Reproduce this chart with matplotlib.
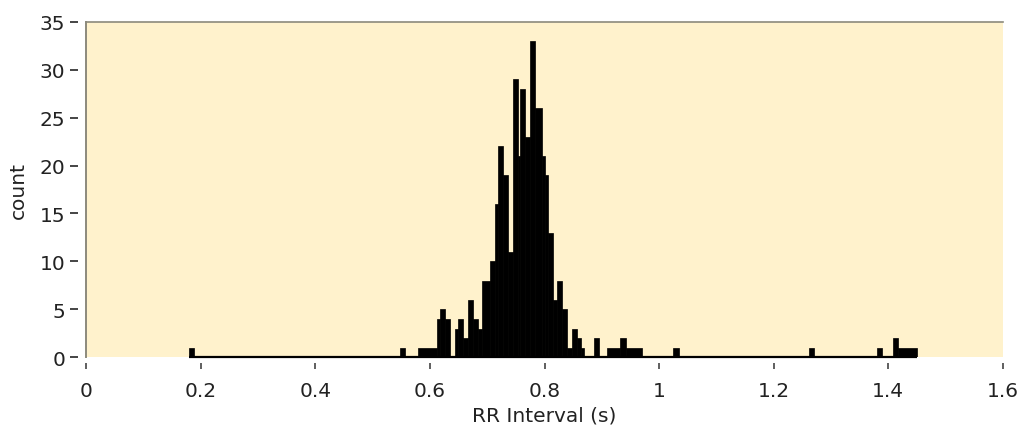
import matplotlib
matplotlib.use("Agg")
import matplotlib.pyplot as plt
import numpy as np

# Histogram of RR intervals: bin edges (s) and counts
bin_edges = [0.1798, 0.1890, 0.5480, 0.5572, 0.5794, 0.6126, 0.6169, 0.6265,
             0.6353, 0.6440, 0.6497, 0.6585, 0.6672, 0.6759, 0.6846, 0.6906,
             0.7051, 0.7138, 0.7196, 0.7283, 0.7370, 0.7457, 0.7545, 0.7574,
             0.7661, 0.7749, 0.7836, 0.7953, 0.8010, 0.8068, 0.8155, 0.8215,
             0.8302, 0.8389, 0.8476, 0.8564, 0.8634, 0.8691, 0.8866, 0.8958,
             0.9098, 0.9319, 0.9418, 0.9698, 1.0250, 1.0349, 1.2618, 1.2710,
             1.3799, 1.3887, 1.4089, 1.4171, 1.4503]
counts = [1, 0, 1, 0, 1, 4, 5, 4,
          0, 3, 4, 2, 6, 4, 3,
          8, 10, 16, 22, 19, 11, 29, 21,
          28, 23, 33, 26, 21, 19, 13, 6,
          8, 5, 1, 3, 2, 1, 0, 2,
          0, 1, 2, 1, 0, 1, 0, 1,
          0, 1, 0, 2, 1]

x_ticks = [0, 0.2, 0.4, 0.6, 0.8, 1.0, 1.2, 1.4, 1.6]
x_tick_labels = ["0", "0.2", "0.4", "0.6", "0.8", "1", "1.2", "1.4", "1.6"]
y_ticks = [0, 5, 10, 15, 20, 25, 30, 35]
x_label = "RR Interval (s)"
y_label = "count"

assert len(bin_edges) == len(counts) + 1

plt.rcParams['font.family'] = ['DejaVu Sans']
fig = plt.figure(figsize=(10.23, 4.35), dpi=100)
fig.patch.set_facecolor('white')
ax = fig.add_axes([86 / 1023, 1 - 358.3 / 435, (1003 - 86) / 1023, (358.3 - 22.7) / 435])
ax.set_facecolor('#FFF2CC')

edges = np.asarray(bin_edges)
vals = np.asarray(counts, dtype=float)
lefts = edges[:-1]
widths = np.diff(edges)
nz = vals > 0
ax.bar(lefts[nz], vals[nz], width=widths[nz], align='edge', color='black',
       edgecolor='black', linewidth=0.5, zorder=3)
# histogram baseline spans the data range
ax.hlines(0, edges[0], edges[-1], color='black', linewidth=1.6,
          clip_on=False, zorder=3)

ax.set_xlim(0, 1.6)
ax.set_ylim(0, 35)

frame_color = '#8c8a7c'
for s in ['right', 'bottom']:
    ax.spines[s].set_visible(False)
ax.spines['bottom'].set_position(('outward', 4))
ax.spines['left'].set_position(('outward', 6))
ax.spines['left'].set_visible(False)
ax.spines['top'].set_color(frame_color)
ax.spines['top'].set_linewidth(1.2)
ax.axvline(0, color=frame_color, linewidth=1.4, clip_on=False, zorder=4)

ax.set_xticks(x_ticks)
ax.set_xticklabels(x_tick_labels)
ax.set_yticks(y_ticks)
ax.tick_params(axis='x', length=4, width=1.2, pad=9, color='#444444',
               labelsize=14.5, labelcolor='#222222')
ax.tick_params(axis='y', length=6, width=1.4, pad=3, color='#444444',
               labelsize=14.5, labelcolor='#222222')

ax.set_xlabel(x_label, fontsize=14.5, color='#222222', labelpad=4)
ax.set_ylabel(y_label, fontsize=14.5, color='#222222', labelpad=8)

fig.savefig('out.png', dpi=100, facecolor='white')
